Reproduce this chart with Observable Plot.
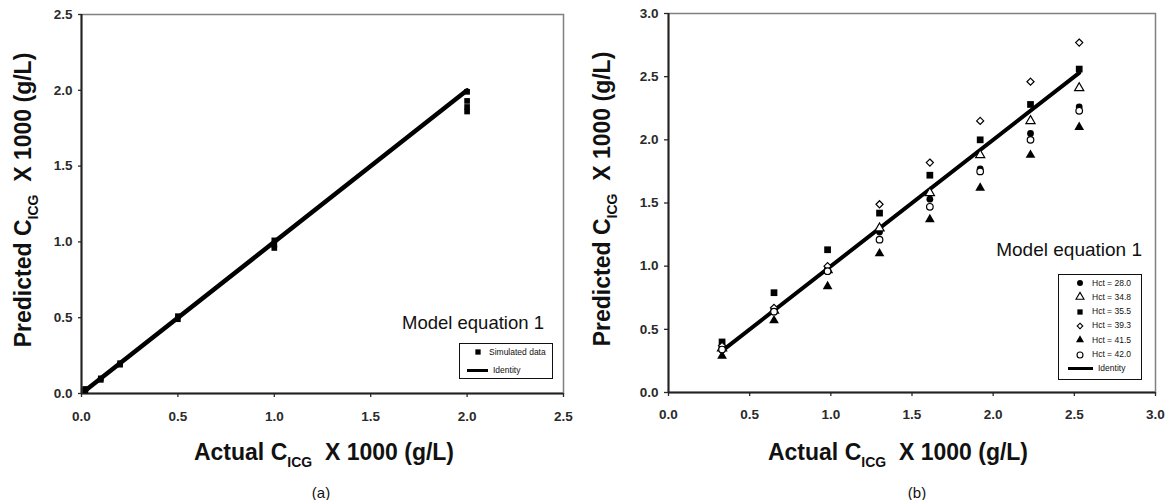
<!DOCTYPE html>
<html><head><meta charset="utf-8">
<script src="https://cdn.jsdelivr.net/npm/d3@7"></script>
<script src="https://cdn.jsdelivr.net/npm/@observablehq/plot@0.6"></script>
<style>
body{margin:0;background:#fff;font-family:"Liberation Sans",Arial,sans-serif;}
#wrap{position:relative;width:1169px;height:500px;overflow:hidden;background:#fff;}
.abs{position:absolute;white-space:nowrap;}
.axt{font-weight:bold;font-size:23px;line-height:23px;color:#111;}
.sub{font-size:14px;position:relative;top:7px;}
.model{font-size:18.5px;line-height:18px;color:#111;}
.panel{font-size:15px;line-height:15px;color:#111;}
.leg{position:absolute;border:1px solid #111;background:#fff;box-sizing:border-box;}
.legtxt{position:absolute;font-size:8.5px;line-height:8.5px;color:#111;white-space:nowrap;}
svg.plotsvg{position:absolute;top:0;}
svg.plotsvg text{font-size:13.5px !important;font-weight:bold !important;font-family:"Liberation Sans",Arial,sans-serif !important;fill:#2a2a2a;}
</style></head><body><div id="wrap"></div>
<script>
// ---------------- data ----------------
// Panel (a): simulated data vs actual
const simActual    = [0.02, 0.02, 0.10, 0.10, 0.20, 0.20, 0.50, 0.50, 1.00, 1.00, 1.00, 2.00, 2.00, 2.00, 2.00];
const simPredicted = [0.02, 0.03, 0.10, 0.09, 0.20, 0.19, 0.51, 0.49, 1.01, 0.98, 0.96, 1.99, 1.93, 1.89, 1.86];
const ticksA = [0, 0.5, 1.0, 1.5, 2.0, 2.5];

// Panel (b): predicted vs actual for several hematocrit values
const actualB = [0.33, 0.65, 0.98, 1.30, 1.61, 1.92, 2.23, 2.53];
const hctLabels = ["Hct = 28.0", "Hct = 34.8", "Hct = 35.5", "Hct = 39.3", "Hct = 41.5", "Hct = 42.0"];
const hct280 = [0.36, 0.66, 0.98, 1.27, 1.53, 1.77, 2.05, 2.26];
const hct348 = [0.35, 0.65, 0.97, 1.30, 1.58, 1.88, 2.15, 2.41];
const hct355 = [0.40, 0.79, 1.13, 1.42, 1.72, 2.00, 2.28, 2.56];
const hct393 = [0.37, 0.67, 1.00, 1.49, 1.82, 2.15, 2.46, 2.77];
const hct415 = [0.29, 0.57, 0.84, 1.10, 1.37, 1.62, 1.88, 2.10];
const hct420 = [0.34, 0.64, 0.96, 1.21, 1.47, 1.75, 2.00, 2.23];
const ticksB = [0, 0.5, 1.0, 1.5, 2.0, 2.5, 3.0];

const axisTitleX = "Actual C";
const axisTitleY = "Predicted C";
const subText = "ICG";
const unitText = "\u00a0\u00a0X 1000 (g/L)";
const modelText = "Model equation 1";
const simLegend = "Simulated data";
const identityLegend = "Identity";

// ---------------- build ----------------
const wrap = document.getElementById("wrap");
const fmt = d3.format(".1f");
const baseStyle = {fontFamily: "'Liberation Sans', Arial, sans-serif", fontWeight: "bold", color: "#2a2a2a", background: "transparent", overflow: "visible"};

// series styling (kept out of data)
const seriesB = [
  {label: hctLabels[0], values: hct280, symbol: "circle",   fill: "#000", stroke: "none", r: 3.4},
  {label: hctLabels[1], values: hct348, symbol: "triangle", fill: "#fff", stroke: "#000", r: 3.4},
  {label: hctLabels[2], values: hct355, symbol: "square",   fill: "#000", stroke: "none", r: 3.8},
  {label: hctLabels[3], values: hct393, symbol: "diamond2", fill: "#fff", stroke: "#000", r: 3.2},
  {label: hctLabels[4], values: hct415, symbol: "triangle", fill: "#000", stroke: "none", r: 3.6},
  {label: hctLabels[5], values: hct420, symbol: "circle",   fill: "#fff", stroke: "#000", r: 3.3}
];

const simRows = simActual.map((x, i) => ({x, y: simPredicted[i]}));
const idA = d3.extent(simActual);

const plotA = Plot.plot({
  width: 590, height: 430,
  marginLeft: 81, marginRight: 27, marginTop: 14, marginBottom: 37,
  x: {domain: [0, 2.5]},
  y: {domain: [0, 2.5]},
  style: baseStyle,
  marks: [
    Plot.frame({stroke: "#808080", strokeWidth: 1.5}),
    Plot.axisX({ticks: ticksA, tickFormat: fmt, tickSize: 4, tickPadding: 14, label: null, strokeWidth: 1.3}),
    Plot.axisY({ticks: ticksA, tickFormat: fmt, tickSize: 3, tickPadding: 6, label: null, strokeWidth: 1.3}),
    Plot.ruleX([0], {stroke: "#222", strokeWidth: 2}),
    Plot.ruleY([0], {stroke: "#222", strokeWidth: 2}),
    Plot.line(idA, {x: d => d, y: d => d, stroke: "#000", strokeWidth: 4.5}),
    Plot.dot(simRows, {x: "x", y: "y", symbol: "square", fill: "#000", r: 3.2})
  ]
});
plotA.classList.add("plotsvg");
plotA.style.left = "0px";
wrap.appendChild(plotA);

const idB = d3.extent(actualB);
const marksB = [
  Plot.frame({stroke: "#808080", strokeWidth: 1.5}),
  Plot.axisX({ticks: ticksB, tickFormat: fmt, tickSize: 4, tickPadding: 13, label: null, strokeWidth: 1.3}),
  Plot.axisY({ticks: ticksB, tickFormat: fmt, tickSize: 4, tickPadding: 6, label: null, strokeWidth: 1.3}),
  Plot.ruleX([0], {stroke: "#222", strokeWidth: 2}),
  Plot.ruleY([0], {stroke: "#222", strokeWidth: 2}),
  Plot.line(idB, {x: d => d, y: d => d, stroke: "#000", strokeWidth: 4})
];
seriesB.forEach(s => {
  const rows = s.values.map((v, j) => ({x: actualB[j], y: v}));
  marksB.push(Plot.dot(rows, {x: "x", y: "y", symbol: s.symbol, fill: s.fill, stroke: s.stroke, strokeWidth: 1.2, r: s.r}));
});
const plotB = Plot.plot({
  width: 579, height: 430,
  marginLeft: 78, marginRight: 14, marginTop: 13, marginBottom: 38,
  x: {domain: [0, 3]},
  y: {domain: [0, 3]},
  style: baseStyle,
  marks: marksB
});
plotB.classList.add("plotsvg");
plotB.style.left = "590px";
wrap.appendChild(plotB);

// ---------------- text overlays ----------------
function addDiv(cls, html, css) {
  const d = document.createElement("div");
  d.className = "abs " + cls;
  d.innerHTML = html;
  Object.assign(d.style, css);
  wrap.appendChild(d);
  return d;
}
const titleX = `${axisTitleX}<span class="sub">${subText}</span>${unitText}`;
const titleY = `${axisTitleY}<span class="sub">${subText}</span>${unitText}`;
addDiv("axt", titleX, {left: "324px", top: "441px", transform: "translateX(-50%)"});
addDiv("axt", titleX, {left: "898px", top: "441px", transform: "translateX(-50%)"});
addDiv("axt", titleY, {left: "24.5px", top: "200px", transform: "translate(-50%,-50%) rotate(-90deg)"});
addDiv("axt", titleY, {left: "603.5px", top: "198.5px", transform: "translate(-50%,-50%) rotate(-90deg)"});
addDiv("panel", "(a)", {left: "321px", top: "485px", transform: "translateX(-50%)"});
addDiv("panel", "(b)", {left: "917px", top: "485px", transform: "translateX(-50%)"});
addDiv("model", modelText, {left: "402px", top: "314px"});
addDiv("model", modelText, {right: (1169 - 1142) + "px", top: "241px", fontSize: "19px"});

// ---------------- legends ----------------
function symbolSvg(sym, fill, stroke, size) {
  const map = {circle: d3.symbolCircle, triangle: d3.symbolTriangle, square: d3.symbolSquare, diamond2: d3.symbolDiamond2};
  const p = d3.symbol(map[sym], size)();
  return `<svg width="12" height="12" viewBox="-6 -6 12 12" style="position:absolute;overflow:visible"><path d="${p}" fill="${fill}" stroke="${stroke}" stroke-width="1.1"/></svg>`;
}
function legend(box, rows) {
  const L = document.createElement("div");
  L.className = "leg";
  Object.assign(L.style, {left: box.left + "px", top: box.top + "px", width: box.w + "px", height: box.h + "px"});
  rows.forEach(r => {
    if (r.line) {
      const ln = document.createElement("div");
      Object.assign(ln.style, {position: "absolute", left: r.lx0 + "px", width: (r.lx1 - r.lx0) + "px", top: (r.y - 1.5) + "px", height: "3px", background: "#000"});
      L.appendChild(ln);
    } else {
      const s = document.createElement("div");
      s.innerHTML = symbolSvg(r.symbol, r.fill, r.stroke, r.size);
      Object.assign(s.style, {position: "absolute", left: (r.mx - 6) + "px", top: (r.y - 6) + "px"});
      L.appendChild(s);
    }
    const t = document.createElement("div");
    t.className = "legtxt";
    t.textContent = r.text;
    Object.assign(t.style, {left: r.tx + "px", top: (r.y - 4.5) + "px"});
    L.appendChild(t);
  });
  wrap.appendChild(L);
}
legend({left: 459, top: 343, w: 94, h: 36}, [
  {symbol: "square", fill: "#000", stroke: "none", size: 28, mx: 18, y: 8, tx: 29, text: simLegend},
  {line: true, lx0: 7, lx1: 28, y: 26, tx: 33, text: identityLegend}
]);
const rowsB = seriesB.map((s, i) => ({symbol: s.symbol, fill: s.fill, stroke: s.stroke, size: s.symbol === "diamond2" ? 20 : 28, mx: 21, y: 8 + i * 14.3, tx: 33, text: s.label}));
rowsB.push({line: true, lx0: 9, lx1: 34, y: 8 + 6 * 14.3, tx: 39, text: identityLegend});
legend({left: 1058, top: 274, w: 84, h: 106}, rowsB);
</script></body></html>
